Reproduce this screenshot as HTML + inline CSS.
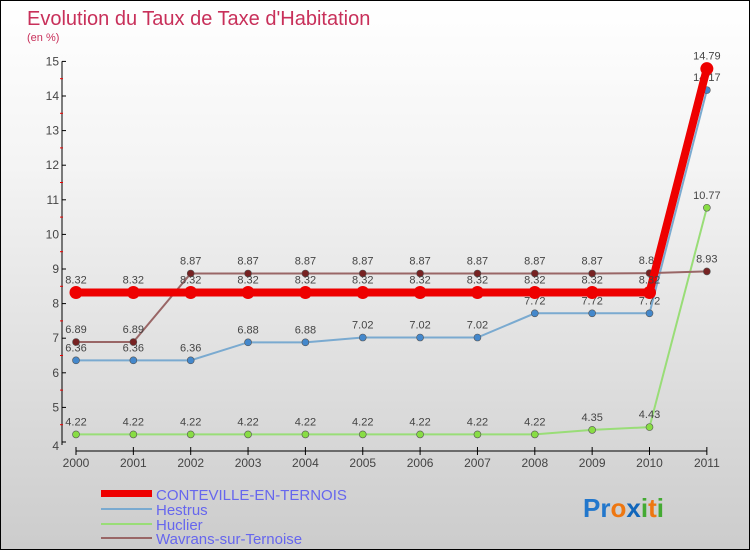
<!DOCTYPE html>
<html><head><meta charset="utf-8"><style>
body{margin:0;width:750px;height:550px;overflow:hidden;font-family:"Liberation Sans",sans-serif}
#wrap{position:absolute;left:0;top:0;width:748px;height:548px;border:1px solid #000;background:linear-gradient(#ffffff,#f4f4f4 30%,#cccccc)}
</style></head><body>
<div id="wrap">
<svg id="svg" width="748" height="548">
<text x="26" y="24" font-size="20" fill="#c8305a">Evolution du Taux de Taxe d'Habitation</text>
<text x="26" y="40" font-size="11" fill="#c8305a">(en %)</text>
<g id="g"></g>
<g>
<rect x="100" y="489" width="51" height="7" fill="#e00"/>
<text x="155" y="499" font-size="15" fill="#6666ee">CONTEVILLE-EN-TERNOIS</text>
<line x1="100" y1="508" x2="151" y2="508" stroke="#7aaad0" stroke-width="2"/>
<text x="155" y="514" font-size="15" fill="#6666ee">Hestrus</text>
<line x1="100" y1="523" x2="151" y2="523" stroke="#99dd77" stroke-width="2"/>
<text x="155" y="529" font-size="15" fill="#6666ee">Huclier</text>
<line x1="100" y1="537" x2="151" y2="537" stroke="#996666" stroke-width="2"/>
<text x="155" y="543" font-size="15" fill="#6666ee">Wavrans-sur-Ternoise</text>
</g>
<text x="582" y="516" font-size="26" font-weight="bold"><tspan fill="#2277cc">Pr</tspan><tspan fill="#ee7711">o</tspan><tspan fill="#1166bb">x</tspan><tspan fill="#44aa33">i</tspan><tspan fill="#ee7711">t</tspan><tspan fill="#44aa33">i</tspan></text>
</svg></div>
<script>
const years=[2000,2001,2002,2003,2004,2005,2006,2007,2008,2009,2010,2011];
const conteville=[8.32,8.32,8.32,8.32,8.32,8.32,8.32,8.32,8.32,8.32,8.32,14.79];
const hestrus=[6.36,6.36,6.36,6.88,6.88,7.02,7.02,7.02,7.72,7.72,7.72,14.17];
const huclier=[4.22,4.22,4.22,4.22,4.22,4.22,4.22,4.22,4.22,4.35,4.43,10.77];
const wavrans=[6.89,6.89,8.87,8.87,8.87,8.87,8.87,8.87,8.87,8.87,8.88,8.93];
const yTicks=[4,5,6,7,8,9,10,11,12,13,14,15];
const NS="http://www.w3.org/2000/svg";
const g=document.getElementById('g');
const X=i=>75+i*57.35, Y=v=>441-(v-4)*34.6;
function el(t,a,n){const e=document.createElementNS(NS,t);for(const k in a)e.setAttribute(k,a[k]);g.appendChild(e);return e;}
let e=el('line',{x1:61,y1:Y(15),x2:61,y2:Y(4)+3,stroke:'#000'});


e=el('line',{x1:X(0),y1:450,x2:X(11),y2:450,stroke:'#000'});


yTicks.forEach(v=>{
 el('line',{x1:61,y1:Y(v),x2:65,y2:Y(v),stroke:'#000'});
 if(v<15)el('line',{x1:59,y1:Y(v+0.5),x2:62,y2:Y(v+0.5),stroke:'#e00'});
 const t=el('text',{x:58,y:Y(v)+(v==4?8:4),'font-size':12,fill:'#444','text-anchor':'end'});t.textContent=v;
 
 
});
years.forEach((y,i)=>{
 el('line',{x1:X(i),y1:446,x2:X(i),y2:454,stroke:'#000'});
 const t=el('text',{x:X(i),y:466,'font-size':12,fill:'#444','text-anchor':'middle'});t.textContent=y;
 
 
});
function series(d,col,w,r,dotcol,name){
 const p=el('polyline',{points:d.map((v,i)=>X(i)+','+Y(v)).join(' '),fill:'none',stroke:col,'stroke-width':w});
 
 
 d.forEach((v,i)=>{
  const c=el('circle',{cx:X(i),cy:Y(v),r:r,fill:dotcol,stroke:'#555','stroke-width':r>4?0:0.6});
  
  
  const t=el('text',{x:X(i),y:Y(v)-9,'font-size':11,fill:'#444','text-anchor':'middle'});t.textContent=v;
  
  
 });
}
series(huclier,'#99dd77',2,3.5,'#88dd44','huclier');
series(hestrus,'#7aaad0',2,3.5,'#4488cc','hestrus');
series(wavrans,'#996666',2,3.5,'#772222','wavrans');
series(conteville,'#ee0000',8,6.5,'#ee0000','conteville');
</script>
</body></html>
